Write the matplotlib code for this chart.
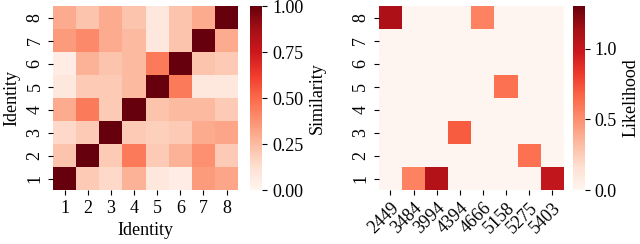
import numpy as np
import matplotlib
matplotlib.use('Agg')
import matplotlib.pyplot as plt

plt.rcParams['font.family'] = ['Liberation Serif', 'DejaVu Serif']
plt.rcParams['font.size'] = 13

identities = ['1', '2', '3', '4', '5', '6', '7', '8']
ids_right = ['2449', '3484', '3994', '4394', '4666', '5158', '5275', '5403']

# similarity, row 1 (bottom) to row 8 (top)
similarity = [
    [1.00, 0.20, 0.15, 0.28, 0.08, 0.05, 0.35, 0.32],
    [0.22, 1.00, 0.20, 0.45, 0.20, 0.28, 0.38, 0.20],
    [0.15, 0.20, 1.00, 0.20, 0.18, 0.20, 0.30, 0.32],
    [0.30, 0.45, 0.20, 1.00, 0.22, 0.25, 0.25, 0.20],
    [0.08, 0.20, 0.20, 0.25, 1.00, 0.45, 0.08, 0.08],
    [0.05, 0.28, 0.22, 0.25, 0.45, 1.00, 0.22, 0.20],
    [0.35, 0.40, 0.30, 0.25, 0.08, 0.22, 1.00, 0.30],
    [0.30, 0.22, 0.30, 0.22, 0.08, 0.22, 0.30, 1.00],
]

# likelihood, row 1 (bottom) to row 8 (top)
likelihood = [
    [0.00, 0.55, 1.08, 0.00, 0.00, 0.00, 0.00, 1.02],
    [0.00, 0.00, 0.00, 0.00, 0.00, 0.00, 0.62, 0.00],
    [0.00, 0.00, 0.00, 0.70, 0.00, 0.00, 0.00, 0.00],
    [0.00, 0.00, 0.00, 0.00, 0.00, 0.00, 0.00, 0.00],
    [0.00, 0.00, 0.00, 0.00, 0.00, 0.62, 0.00, 0.00],
    [0.00, 0.00, 0.00, 0.00, 0.00, 0.00, 0.00, 0.00],
    [0.00, 0.00, 0.00, 0.00, 0.00, 0.00, 0.00, 0.00],
    [1.10, 0.00, 0.00, 0.00, 0.55, 0.00, 0.00, 0.00],
]

fig = plt.figure(figsize=(6.4, 2.44), dpi=100)

ax1 = fig.add_axes([0.083, 0.221, 0.289, 0.754])
cax1 = fig.add_axes([0.391, 0.221, 0.019, 0.754])
ax2 = fig.add_axes([0.592, 0.221, 0.289, 0.754])
cax2 = fig.add_axes([0.895, 0.221, 0.019, 0.754])


def draw(ax, cax, data, vmax, xlabels, ticks, cblabel):
    data = np.array(data)
    m = ax.pcolormesh(data, cmap='Reds', vmin=0, vmax=vmax)
    ax.set_xlim(0, 8)
    ax.set_ylim(0, 8)
    ax.set_xticks(np.arange(8) + 0.5)
    ax.set_yticks(np.arange(8) + 0.5)
    ax.set_yticklabels(identities, rotation=90, va='center')
    for s in ax.spines.values():
        s.set_visible(False)
    cb = fig.colorbar(m, cax=cax)
    cb.set_ticks(ticks)
    cb.outline.set_visible(False)
    cb.set_label(cblabel)
    return m


draw(ax1, cax1, similarity, 1.0, identities, [0, 0.25, 0.5, 0.75, 1.0], 'Similarity')
ax1.set_xticklabels(identities)
ax1.set_xlabel('Identity')
ax1.set_ylabel('Identity')
cax1.set_yticklabels(['0.00', '0.25', '0.50', '0.75', '1.00'])

draw(ax2, cax2, likelihood, 1.3, ids_right, [0, 0.5, 1.0], 'Likelihood')
ax2.set_xticklabels(ids_right, rotation=45, ha='right', rotation_mode='anchor')

plt.savefig('out.png', dpi=100)
